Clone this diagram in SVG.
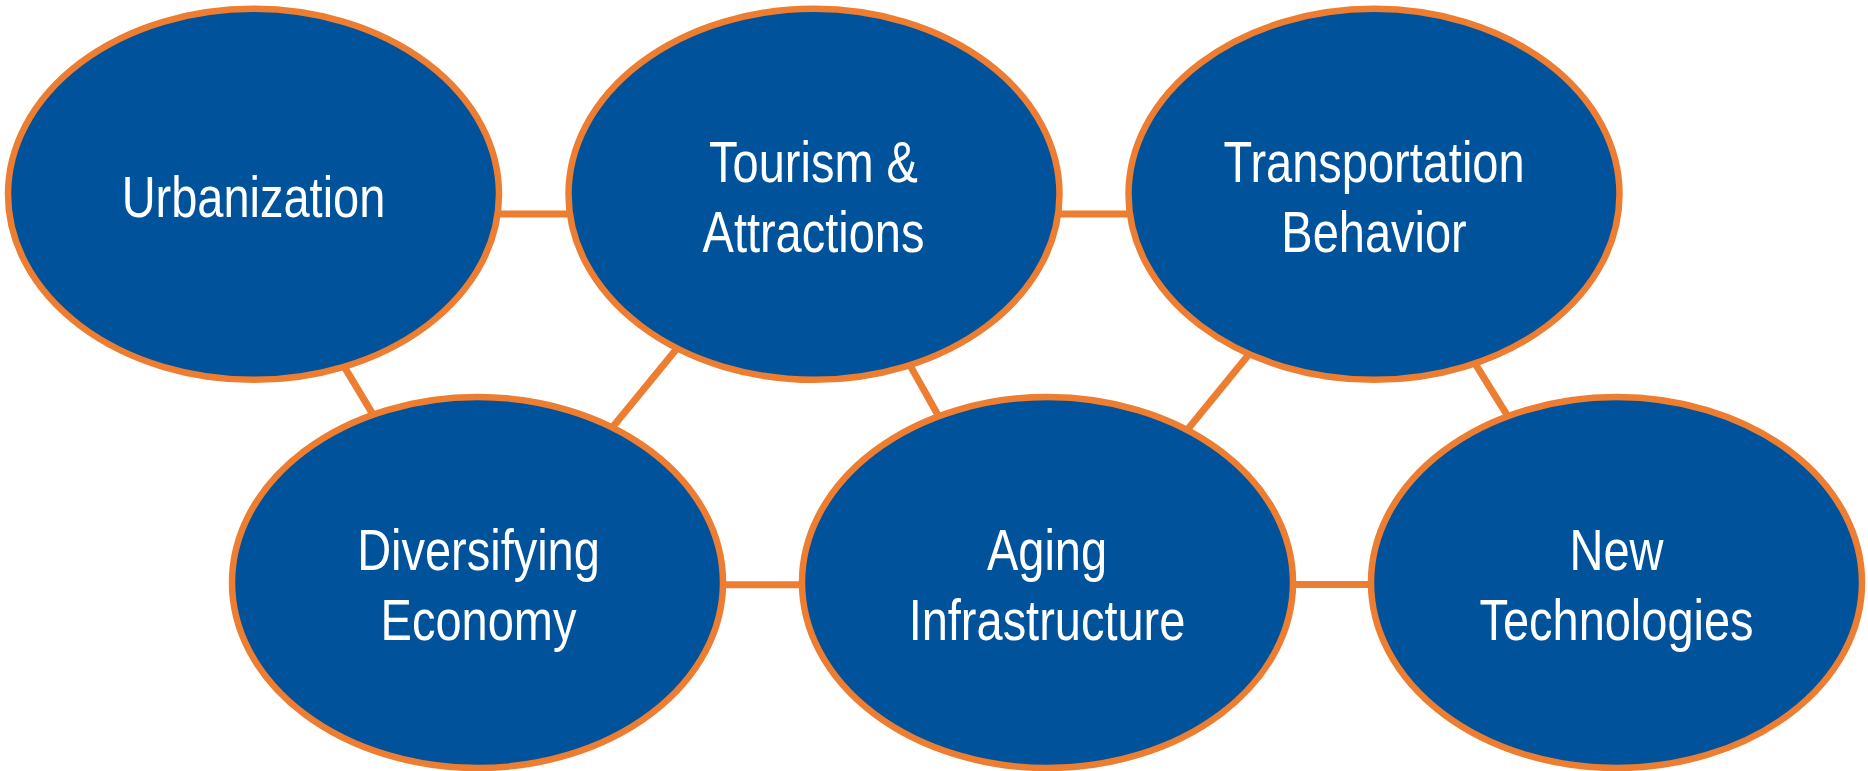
<svg xmlns="http://www.w3.org/2000/svg" width="1868" height="771" viewBox="0 0 1868 771">
<style>
.conn{stroke:#ED7D31;stroke-width:7;fill:none;}
.node{fill:#00529B;stroke:#ED7D31;stroke-width:6.5;}
.lbl{fill:#FFFFFF;font-family:"Liberation Sans","Arial",sans-serif;font-size:58px;text-anchor:middle;}
</style>
<rect width="1868" height="771" fill="#FFFFFF"/>
<g id="connectors">
<line class="conn" x1="480" y1="214" x2="590" y2="214"/>
<line class="conn" x1="1040" y1="214" x2="1150" y2="214"/>
<line class="conn" x1="700" y1="584.7" x2="820" y2="584.7"/>
<line class="conn" x1="1270" y1="584.5" x2="1390" y2="584.5"/>
<line class="conn" x1="336.2" y1="353.4" x2="381.8" y2="429.1"/>
<line class="conn" x1="687" y1="336.2" x2="600.8" y2="441.5"/>
<line class="conn" x1="901.4" y1="350.1" x2="946.8" y2="430.7"/>
<line class="conn" x1="1259.6" y1="341.2" x2="1175.9" y2="443.8"/>
<line class="conn" x1="1466.4" y1="349.7" x2="1516.6" y2="430.3"/>
</g>
<g id="urbanization">
<ellipse class="node" cx="253.5" cy="194.3" rx="245.5" ry="185.5"/>
<g transform="translate(253.5,0) scale(0.81,1)"><text class="lbl" x="0" y="217.3">Urbanization</text></g>
</g>
<g id="tourism">
<ellipse class="node" cx="814" cy="194.3" rx="245.5" ry="185.5"/>
<g transform="translate(813.5,0) scale(0.81,1)">
<text class="lbl" x="0" y="181.7">Tourism &amp;</text>
<text class="lbl" x="0" y="251.7">Attractions</text>
</g>
</g>
<g id="transportation">
<ellipse class="node" cx="1374" cy="194.3" rx="245.5" ry="185.5"/>
<g transform="translate(1374,0) scale(0.81,1)">
<text class="lbl" x="0" y="181.7">Transportation</text>
<text class="lbl" x="0" y="251.7">Behavior</text>
</g>
</g>
<g id="diversifying">
<ellipse class="node" cx="477.5" cy="582.5" rx="245.5" ry="185.5"/>
<g transform="translate(478.5,0) scale(0.81,1)">
<text class="lbl" x="0" y="570">Diversifying</text>
<text class="lbl" x="0" y="640">Economy</text>
</g>
</g>
<g id="aging">
<ellipse class="node" cx="1047.5" cy="582.5" rx="245.5" ry="185.5"/>
<g transform="translate(1047,0) scale(0.81,1)">
<text class="lbl" x="0" y="570">Aging</text>
<text class="lbl" x="0" y="640">Infrastructure</text>
</g>
</g>
<g id="newtech">
<ellipse class="node" cx="1616.5" cy="582.5" rx="245.5" ry="185.5"/>
<g transform="translate(1616.5,0) scale(0.81,1)">
<text class="lbl" x="0" y="570">New</text>
<text class="lbl" x="0" y="640">Technologies</text>
</g>
</g>
</svg>
